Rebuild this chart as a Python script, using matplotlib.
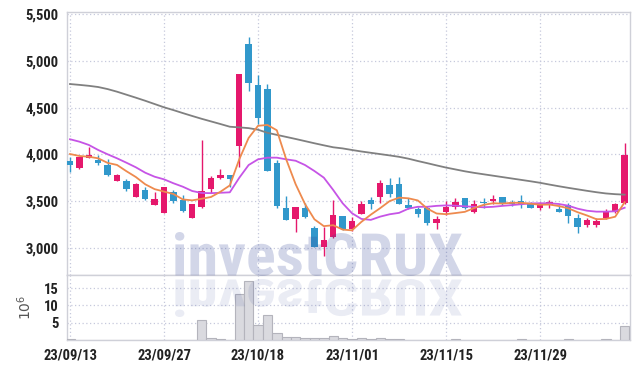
import numpy as np
import matplotlib
matplotlib.use("Agg")
import matplotlib.pyplot as plt
from matplotlib import font_manager
from matplotlib.textpath import TextPath
from matplotlib.patches import PathPatch
from matplotlib.transforms import Affine2D, IdentityTransform

# tick labels (every 10 trading days)
tick_idx = [0, 10, 20, 30, 40, 50]
tick_labels = ['23/09/13', '23/09/27', '23/10/18', '23/11/01', '23/11/15', '23/11/29']

opens = [3930, 3850, 3962, 3940, 3888, 3720, 3716, 3548, 3620, 3463,
         3375, 3598, 3513, 3324, 3435, 3627, 3752, 3780, 4094, 5180,
         4745, 4700, 3910, 3424, 3313, 3430, 3213, 3013, 3114, 3342,
         3200, 3360, 3513, 3548, 3673, 3684, 3460, 3417, 3431, 3270,
         3388, 3438, 3531, 3388, 3495, 3499, 3542, 3488, 3502, 3467,
         3431, 3456, 3417, 3460, 3317, 3245, 3245, 3324, 3388, 3478]
highs = [3975, 3975, 4085, 3995, 3950, 3790, 3740, 3695, 3655, 3600,
         3655, 3617, 3567, 3475, 4160, 3770, 3842, 3785, 4865, 5260,
         4850, 4755, 3940, 3555, 3440, 3478, 3235, 3228, 3513, 3345,
         3335, 3502, 3542, 3727, 3745, 3762, 3538, 3442, 3449, 3342,
         3502, 3538, 3535, 3513, 3531, 3567, 3545, 3513, 3567, 3495,
         3495, 3509, 3460, 3478, 3363, 3317, 3317, 3417, 3478, 4120]
lows = [3815, 3845, 3960, 3885, 3773, 3718, 3606, 3545, 3510, 3460,
        3370, 3478, 3381, 3320, 3430, 3585, 3738, 3655, 3870, 4680,
        4325, 3820, 3430, 3298, 3175, 3325, 3010, 2914, 3110, 3195,
        3180, 3358, 3414, 3478, 3548, 3470, 3414, 3334, 3249, 3200,
        3353, 3414, 3420, 3371, 3424, 3467, 3460, 3452, 3424, 3431,
        3406, 3424, 3388, 3264, 3157, 3220, 3220, 3310, 3378, 3475]
closes = [3890, 3970, 3995, 3912, 3782, 3781, 3634, 3687, 3520, 3524,
          3650, 3502, 3400, 3470, 3610, 3745, 3780, 3738, 4860, 4760,
          4395, 3826, 3452, 3300, 3438, 3328, 3013, 3085, 3353, 3200,
          3288, 3467, 3473, 3700, 3577, 3473, 3432, 3360, 3264, 3310,
          3438, 3495, 3424, 3467, 3480, 3524, 3478, 3467, 3467, 3431,
          3467, 3488, 3388, 3345, 3220, 3296, 3288, 3399, 3467, 3995]

# volume in millions
volume = [0.2, 0.05, 0.05, 0.05, 0.05, 0.05, 0.05, 0.05, 0.05, 0.05,
          0.05, 0.05, 0.05, 0.05, 5.8, 0.5, 0.3, 0.1, 13.2, 17.0,
          4.2, 7.1, 1.9, 0.8, 0.8, 0.6, 0.6, 0.6, 1.2, 0.5,
          0.2, 0.5, 0.4, 0.7, 0.4, 0.4, 0.1, 0.1, 0.1, 0.1,
          0.1, 0.3, 0.1, 0.1, 0.1, 0.1, 0.1, 0.1, 0.3, 0.1,
          0.1, 0.1, 0.1, 0.3, 0.1, 0.1, 0.1, 0.3, 0.1, 4.0]

ma_short = [4005, 3984, 3976, 3959, 3910, 3888, 3821, 3759, 3681, 3629,
            3603, 3577, 3519, 3509, 3526, 3545, 3601, 3669, 3947, 4177,
            4307, 4316, 4259, 3947, 3682, 3469, 3306, 3233, 3243, 3196,
            3188, 3279, 3356, 3426, 3501, 3538, 3531, 3508, 3421, 3368,
            3361, 3373, 3386, 3427, 3461, 3478, 3475, 3483, 3483, 3473,
            3462, 3464, 3448, 3424, 3382, 3347, 3307, 3310, 3334, 3489]
ma_mid = [4163, 4137, 4102, 4048, 4002, 3959, 3912, 3863, 3805, 3762,
          3734, 3692, 3655, 3609, 3588, 3586, 3590, 3595, 3750, 3887,
          3948, 3966, 3966, 3948, 3933, 3887, 3823, 3752, 3620, 3478,
          3371, 3310, 3300, 3335, 3360, 3375, 3420, 3440, 3440, 3450,
          3455, 3452, 3445, 3440, 3435, 3440, 3450, 3458, 3468, 3476,
          3478, 3478, 3470, 3452, 3420, 3398, 3388, 3388, 3392, 3430]
ma_long = [4754, 4745, 4735, 4722, 4700, 4672, 4640, 4608, 4575, 4540,
           4505, 4475, 4443, 4412, 4382, 4354, 4326, 4297, 4290, 4282,
           4265, 4232, 4210, 4188, 4166, 4143, 4120, 4098, 4077, 4065,
           4048, 4032, 4018, 4004, 3990, 3975, 3955, 3930, 3907, 3883,
           3860, 3840, 3820, 3803, 3788, 3773, 3758, 3743, 3728, 3713,
           3697, 3678, 3660, 3643, 3627, 3611, 3596, 3583, 3575, 3570]

UP = '#e5186c'
DOWN = '#3198cb'
GRID = '#c6c9dc'
SPINE = '#cfd0d8'


def first_font(names, default='DejaVu Sans'):
    installed = {f.name for f in font_manager.fontManager.ttflist}
    for n in names:
        if n in installed:
            return n
    return default


tick_font = first_font(['Roboto Condensed', 'Archivo Narrow', 'PT Sans Narrow', 'Abel', 'Roboto'])
mark_font = first_font(['Roboto Condensed', 'Archivo Narrow', 'PT Sans Narrow', 'Lato'])

fig = plt.figure(figsize=(6.39, 3.69), dpi=100)
ax = fig.add_axes([67 / 639, 1 - 275 / 369, 563 / 639, 263 / 369])
axv = fig.add_axes([67 / 639, 1 - 340 / 369, 563 / 639, 65 / 369], sharex=ax)

x = np.arange(len(closes))
o = np.array(opens)
c = np.array(closes)
colors = [UP if cc >= oo else DOWN for oo, cc in zip(o, c)]

ax.vlines(x, lows, highs, colors=colors, linewidth=1.0, zorder=3)
bottoms = np.minimum(o, c)
heights = np.maximum(np.abs(c - o), 8)
ax.bar(x, heights, bottom=bottoms, width=0.68, color=colors, linewidth=0, zorder=4)

ax.plot(x, ma_long, color='#808080', linewidth=1.3, zorder=5)
ax.plot(x, ma_mid, color='#c654e6', linewidth=1.3, zorder=5)
ax.plot(x, ma_short, color='#ee8a4e', linewidth=1.3, zorder=5)

axv.bar(x, volume, width=1.0, color='#dadadf', edgecolor='#b4b4bc', linewidth=0.8, zorder=3)

ax.set_xlim(-0.32, 59.57)
ax.set_ylim(2710, 5525)
axv.set_ylim(0, 18.8)

ax.set_yticks([3000, 3500, 4000, 4500, 5000, 5500])
ax.set_yticklabels(['{:,}'.format(v) for v in [3000, 3500, 4000, 4500, 5000, 5500]])
axv.set_yticks([5, 10, 15])
axv.set_xticks(tick_idx)
axv.set_xticklabels(tick_labels)
ax.tick_params(axis='x', labelbottom=False, length=0)

for a in (ax, axv):
    a.grid(True, color=GRID, linestyle=(0, (1, 2)), linewidth=0.9)
    a.set_axisbelow(True)
    a.tick_params(length=0, pad=6, colors='#222222', labelsize=10.5)
    for s in a.spines.values():
        s.set_color(SPINE)
        s.set_linewidth(1.0)
    for lab in a.get_yticklabels() + a.get_xticklabels():
        lab.set_fontfamily(tick_font)
        lab.set_fontweight('bold')

axv.set_ylabel(r'$10^6$', fontsize=10, color='#555555')
axv.yaxis.set_label_coords(-0.058, 0.5)

# watermark with reflection
fp = font_manager.FontProperties(family=mark_font, weight='bold')
tp = TextPath((0, 0), 'investCRUX', size=60, prop=fp)
bb = tp.get_extents()
sx = 287 / bb.width
sy = 44 / bb.height
H = 369
base = H - 276
t_main = Affine2D().translate(-bb.x0, -bb.y0).scale(sx, sy).translate(175, base)
fig.add_artist(PathPatch(tp, transform=t_main + IdentityTransform(),
                         facecolor=(0.2, 0.27, 0.6), edgecolor='none', alpha=0.22, zorder=10))
t_ref = Affine2D().translate(-bb.x0, -bb.y0).scale(sx, -38 / bb.height).translate(175, base - 3)
fig.add_artist(PathPatch(tp, transform=t_ref + IdentityTransform(),
                         facecolor=(0.2, 0.27, 0.6), edgecolor='none', alpha=0.1, zorder=10))

fig.savefig('out.png', dpi=100)
